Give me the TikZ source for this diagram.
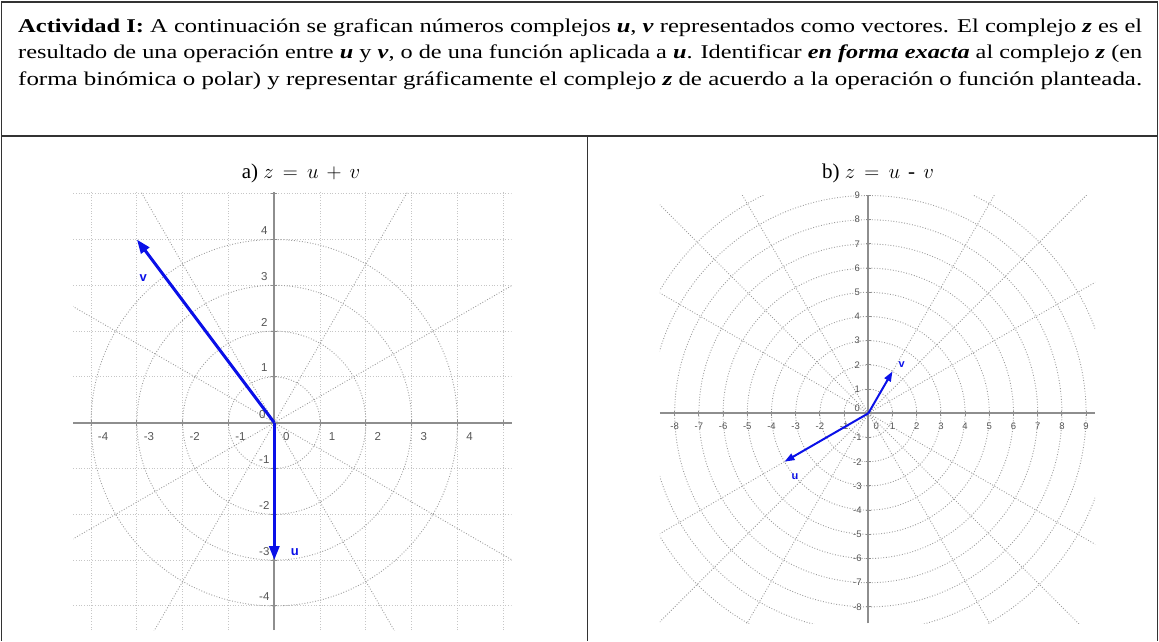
\documentclass[tikz,border=0pt]{standalone}
\usepackage{graphicx}
\usepackage{amsmath}
\usepackage{fontspec}
\setmainfont{Liberation Serif}
\setsansfont{Liberation Sans}
\usetikzlibrary{arrows.meta}
\definecolor{framec}{HTML}{333333}
\definecolor{gridl}{HTML}{C6C6C6}
\definecolor{polarl}{HTML}{9C9C9C}
\definecolor{axisc}{HTML}{8E8E8E}
\definecolor{labc}{HTML}{555555}
\definecolor{vecblue}{HTML}{0A10E8}
\newcommand\bi[1]{\textbf{\textit{#1}}}
\newcommand\fitline[1]{\resizebox{1124pt}{\height}{#1}}
\begin{document}
\begin{tikzpicture}[x=1pt,y=-1pt,
  framel/.style={draw=framec,line width=1.8pt},
  headtxt/.style={anchor=base west,inner sep=0pt,font=\fontsize{19.5}{22}\selectfont},
  titletxt/.style={anchor=base,inner sep=0pt,font=\fontsize{21}{24}\selectfont},
  rgrid/.style={draw=gridl,line width=0.9pt,dash pattern=on 0.9pt off 1.8pt},
  pgrid/.style={draw=polarl,line width=0.9pt,dash pattern=on 0.9pt off 1.8pt},
  axisl/.style={draw=axisc,line width=2pt},
  tickl/.style={draw=axisc,line width=1pt},
  alab/.style={inner sep=0pt,text=labc,font=\sffamily\fontsize{11.5}{11.5}\selectfont},
  blab/.style={inner sep=0pt,text=labc,font=\sffamily\fontsize{9.5}{9.5}\selectfont},
  veca/.style={draw=vecblue,line width=3pt,-{Triangle[length=14pt,width=10pt]}},
  vecb/.style={draw=vecblue,line width=2pt,-{Triangle[length=10pt,width=7pt]}},
  vlab/.style={inner sep=0pt,text=vecblue,font=\sffamily\bfseries\fontsize{13}{13}\selectfont},
  vlabb/.style={inner sep=0pt,text=vecblue,font=\sffamily\bfseries\fontsize{11}{11}\selectfont}]
\useasboundingbox (0,0) rectangle (1159,641);
% frame
\coordinate (fbl) at (1.5,641);
\coordinate (ftl) at (1.5,2);
\coordinate (ftr) at (1157.5,2);
\coordinate (fbr) at (1157.5,641);
\coordinate (hl) at (1.5,136);
\coordinate (hr) at (1157.5,136);
\coordinate (dt) at (587.5,136);
\coordinate (db) at (587.5,641);
\draw[framel] (fbl) -- (ftl) -- (ftr) -- (fbr);
\draw[framel] (hl) -- (hr);
\draw[framel] (dt) -- (db);
% header
\node[headtxt] (h1) at (18,32) {\fitline{\textbf{Actividad I:} A continuación se grafican números complejos \bi{u}, \bi{v} representados como vectores. El complejo \bi{z} es el}};
\node[headtxt] (h2) at (18,58.5) {\fitline{resultado de una operación entre \bi{u} y \bi{v}, o de una función aplicada a \bi{u}. Identificar \bi{en forma exacta} al complejo \bi{z} (en}};
\node[headtxt] (h3) at (18,85) {\fitline{forma binómica o polar) y representar gráficamente el complejo \bi{z} de acuerdo a la operación o función planteada.}};
% titles
\node[titletxt] (ta) at (301,178) {$\text{a)}\ z \,=\, u \,+\, v$};
\node[titletxt] (tb) at (878,178) {$\text{b)}\ z \,=\, u \,\mathbin{\text{-}}\, v$};
% ---------------- panel a
\begin{scope}[shift={(274.3,422.7)},x=45.8pt,y=45.8pt]
  \begin{scope}
    \clip (-4.39,-4.53) rectangle (5.18,5.03);
    \foreach \i in {-4,...,5} \draw[rgrid] (\i,-4.53) -- (\i,5.03);
    \foreach \j in {-4,...,5} \draw[rgrid] (-4.39,\j) -- (5.18,\j);
    \foreach \r in {1,...,4} \draw[pgrid] (0,0) circle (\r);
    \foreach \a in {30,60,120,150,210,240,300,330} \draw[pgrid] (0,0) -- (\a:9);
  \end{scope}
  \coordinate (axl) at (-4.39,0);
  \coordinate (axr) at (5.18,0);
  \coordinate (ayb) at (0,-4.53);
  \coordinate (ayt) at (0,5.03);
  \draw[axisl] (axl) -- (axr);
  \draw[axisl] (ayb) -- (ayt);
  \foreach \i in {-4,...,5} \draw[tickl] (\i,0) ++(0,-3pt) -- ++(0,6pt);
  \foreach \j in {-4,...,5} \draw[tickl] (0,\j) ++(-3pt,0) -- ++(6pt,0);
  \foreach \i in {-4,...,4} \node[alab] (xa\i) at ([xshift=12pt,yshift=-14pt]\i,0) {\i};
  \foreach \j in {-4,-3,-2,-1,1,2,3,4} \node[alab] (ya\j) at ([xshift=-10pt,yshift=9pt]0,\j) {\j};
  \node[alab] (ya0) at ([xshift=-12pt,yshift=8pt]0,0) {0};
  \coordinate (Oa) at (0,0);
  \coordinate (Ua) at (0,-3);
  \coordinate (Va) at (-3,4);
  \draw[veca] (Oa) -- (Ua);
  \draw[veca] (Oa) -- (Va);
  \node[vlab] (lua) at (0.45,-2.82) {u};
  \node[vlab] (lva) at (-2.86,3.15) {v};
\end{scope}
% ---------------- panel b
\begin{scope}[shift={(868.3,413.3)},x=24.2pt,y=24.2pt]
  \begin{scope}
    \clip (-8.61,-8.68) rectangle (9.37,9.02);
    \foreach \r in {1,...,10} \draw[pgrid] (0,0) circle (\r);
    \foreach \a in {30,45,60,120,135,150,210,225,240,300,315,330} \draw[pgrid] (0,0) -- (\a:16);
  \end{scope}
  \coordinate (bxl) at (-8.61,0);
  \coordinate (bxr) at (9.37,0);
  \coordinate (byb) at (0,-8.68);
  \coordinate (byt) at (0,9.02);
  \draw[axisl] (bxl) -- (bxr);
  \draw[axisl] (byb) -- (byt);
  \foreach \i in {-8,...,9} \draw[tickl] (\i,0) ++(0,-2.5pt) -- ++(0,5pt);
  \foreach \j in {-8,...,9} \draw[tickl] (0,\j) ++(-2.5pt,0) -- ++(5pt,0);
  \foreach \i in {-8,...,-1,1,2,...,9} \node[blab] (xb\i) at ([yshift=-13pt]\i,0) {\i};
  \foreach \j in {-8,...,-1,1,2,...,9} \node[blab] (yb\j) at ([xshift=-11pt]0,\j) {\j};
  \node[blab] (xb0) at ([xshift=8pt,yshift=-13pt]0,0) {0};
  \node[blab] (yb0) at ([xshift=-11pt,yshift=5pt]0,0) {0};
  \coordinate (Ob) at (0,0);
  \coordinate (Ub) at (-3.464,-2);
  \coordinate (Vb) at (1,1.732);
  \draw[vecb] (Ob) -- (Ub);
  \draw[vecb] (Ob) -- (Vb);
  \node[vlabb] (lub) at (-3.03,-2.62) {u};
  \node[vlabb] (lvb) at (1.38,2.0) {v};
\end{scope}
\end{tikzpicture}
\end{document}
